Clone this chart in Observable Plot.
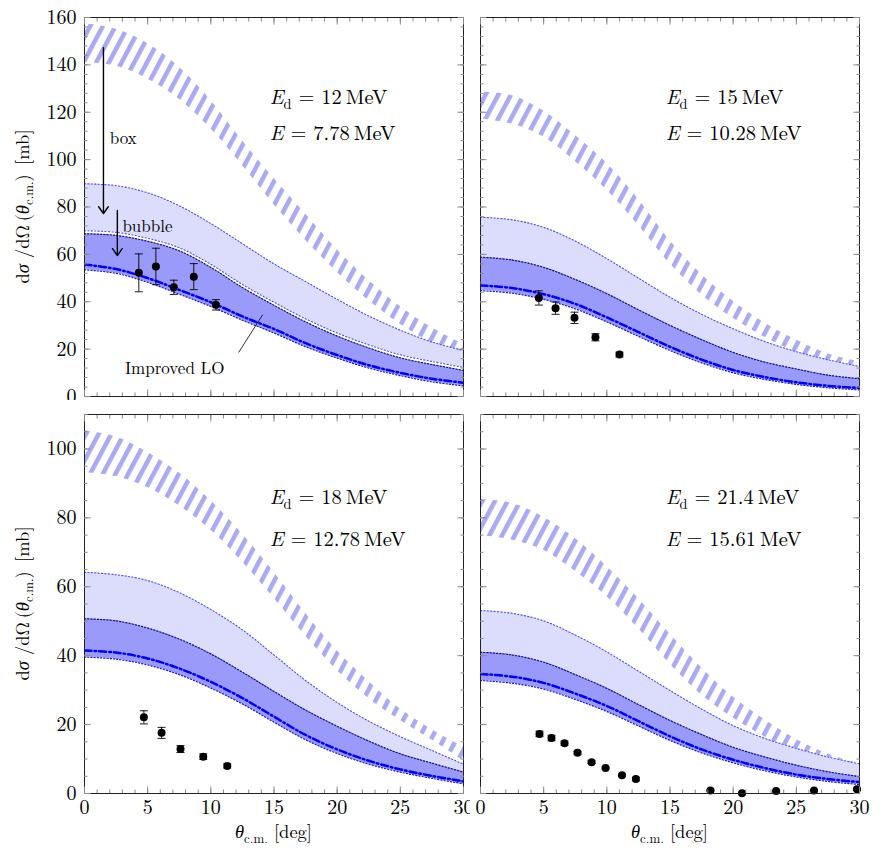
<!DOCTYPE html>
<html><head><meta charset="utf-8">
<script src="https://cdn.jsdelivr.net/npm/d3@7"></script>
<script src="https://cdn.jsdelivr.net/npm/@observablehq/plot@0.6"></script>
<style>
body{margin:0;background:#fff;}
#wrap{position:relative;width:882px;height:861px;}
#wrap > div{position:absolute;}
</style></head><body><div id="wrap"></div>
<script>
// ---------- data ----------
const theta = [0, 2.5, 5, 7.5, 10, 12.5, 15, 17.5, 20, 22.5, 25, 27.5, 30];

// panel (a): Ed = 12 MeV
const a_hatchHi = [157.5,155,149,139,125,108,92,77,62,49,38,29,22];
const a_hatchLo = [141,139.5,134,125.5,113,97.5,81,66,52.5,40.5,30.5,22.5,16.5];
const a_lightHi = [89.8,89,86,80.5,73,64.5,56,48.5,41,34,28,23,19.4];
const a_lightLo = [70,69.3,66.8,62.8,55.8,47.3,39.8,32.8,26.8,21.8,17.6,14.8,12.3];
const a_darkHi  = [68.7,68,65.5,61.5,54.5,46,38.5,31.5,25.5,20.5,16.3,13.5,11];
const a_darkLo  = [53.5,52,48.2,43.2,38,32.2,26.8,21,16.2,12,8.8,6.2,4.5];
const a_lo      = [55.7,53.8,50,45,39.8,33.8,28.5,22.5,17.5,13.2,10,7.5,5.8];
const a_expTheta = [4.3,5.65,7.07,8.65,10.4];
const a_expValue = [52.2,54.9,46.1,50.6,38.7];
const a_expError = [8,7.7,3,5.5,2.2];

// panel (b): Ed = 15 MeV
const b_hatchHi = [128.5,127,120.5,110.2,98.5,83.3,65.8,51.5,40.2,31,23.8,18,14.5];
const b_hatchLo = [117.2,115,109.5,99.2,87.2,72.3,56,43,33,25,18.7,14,11.3];
const b_lightHi = [75.7,74.6,71.4,65.6,58.2,50,41.9,34.7,28.6,23.2,18.9,15.5,12.7];
const b_lightLo = [58.8,57.6,54.5,49.4,43.4,36.6,30,24,18.6,14.5,11.6,9,7.5];
const b_darkHi  = [58.8,57.6,54.5,49.4,43.4,36.6,30,24,18.6,14.5,11.6,9,7.5];
const b_darkLo  = [44.7,43.6,41,37,31.5,25.4,19.4,14.2,10,7.2,5.1,3.7,2.8];
const b_lo      = [46.9,45.8,43.2,39.1,33.4,27.2,21,15.6,11.2,8.2,6,4.5,3.6];
const b_expTheta = [4.62,5.94,7.44,9.1,11.0];
const b_expValue = [41.6,37.3,33.2,25,17.7];
const b_expError = [3,2.6,2.4,1.5,1];

// panel (c): Ed = 18 MeV
const c_hatchHi = [105.3,103.5,99,93,85,75.3,64.2,52.3,41.4,32.5,24.5,18.5,13.5];
const c_hatchLo = [93.2,92,88.8,83.5,76.5,67.2,56.7,45.7,35.7,27.6,21.2,15.5,9.5];
const c_lightHi = [64.2,63.5,61.8,58.3,53.4,47.5,40.2,32.8,26.4,21,16.5,12.5,8.5];
const c_lightLo = [50.7,50.1,48,44.8,40.5,35.2,29.6,24.2,19.5,15.2,11.5,8.8,6.2];
const c_darkHi  = [50.7,50.1,48,44.8,40.5,35.2,29.6,24.2,19.5,15.2,11.5,8.8,6.2];
const c_darkLo  = [39.6,39,37.3,34.5,30.6,26,20.7,15.6,11.6,8.5,6.2,4.4,2.8];
const c_lo      = [41.5,40.9,39.2,36.3,32.4,27.7,22.3,17,12.8,9.5,7,5.1,3.5];
const c_expTheta = [4.7,6.1,7.6,9.4,11.3];
const c_expValue = [22.1,17.6,12.9,10.7,8.0];
const c_expError = [1.9,1.6,1,0.8,0.6];

// panel (d): Ed = 21.4 MeV
const d_hatchHi = [85.3,84.2,80.2,74,65.9,56.6,46.3,36.5,28,21.4,15.7,11.5,8.6];
const d_hatchLo = [74.9,73.6,70.6,64.5,57.2,47.9,37.6,28.6,21.9,16.4,11.6,8.4,5.7];
const d_lightHi = [53.1,52.3,50.1,46,41.1,35.5,29.9,24.5,19.7,16,13.1,10.6,8.6];
const d_lightLo = [41,40.2,38.1,34.5,30.5,25.8,21.2,17.1,13.4,10.6,8.2,6.3,4.9];
const d_darkHi  = [41,40.2,38.1,34.5,30.5,25.8,21.2,17.1,13.4,10.6,8.2,6.3,4.9];
const d_darkLo  = [32.8,32,30.3,27.3,23.8,19.6,15.4,11.8,8.9,6.6,4.8,3.5,2.6];
const d_lo      = [34.7,33.9,32.1,29,25.4,21,16.6,12.8,9.8,7.4,5.5,4.2,3.3];
const d_expTheta = [4.67,5.62,6.65,7.68,8.79,9.9,11.2,12.3,18.2,20.7,23.4,26.4,29.8];
const d_expValue = [17.3,16.1,14.6,11.8,9.1,7.4,5.3,4.2,0.9,0.1,0.7,0.9,1.2];
const d_expError = [0.8,0.8,0.6,0.4,0.4,0.3,0.3,0.5,0.2,0.2,0.2,0.2,0.2];

const energyLabels = [["12", "7.78"], ["15", "10.28"], ["18", "12.78"], ["21.4", "15.61"]];
const xTicks = [0, 5, 10, 15, 20, 25, 30];
const yTicksTop = [0, 20, 40, 60, 80, 100, 120, 140, 160];
const yTicksBottom = [0, 20, 40, 60, 80, 100];

// ---------- helpers ----------
const FONT = "'Latin Modern Roman','CMU Serif','Liberation Serif',serif";

function table(hh, hl, lh, ll, dh, dl, lo) {
  return theta.map((t, i) => ({theta: t, hatchHi: hh[i], hatchLo: hl[i], lightHi: lh[i], lightLo: ll[i], darkHi: dh[i], darkLo: dl[i], lo: lo[i]}));
}
function expTable(t, v, e) { return t.map((x, i) => ({theta: x, value: v[i], err: e[i]})); }

function addParts(t, parts, size) {
  let shifted = 0;
  for (const [s, kind] of parts) {
    const ts = t.append("tspan").text(s);
    if (kind === "i") ts.attr("font-style", "italic");
    if (kind === "sub") {
      const sh = size * 0.25;
      ts.attr("font-size", size * 0.7).attr("dy", sh);
      shifted = sh;
    } else if (shifted) { ts.attr("dy", -shifted); shifted = 0; }
  }
}
function richText(items) {
  return (index, {x, y}) => {
    const g = d3.create("svg:g").attr("font-family", FONT).attr("fill", "black").attr("text-anchor", "start");
    for (const it of items) {
      const t = g.append("text").attr("x", x(it.x)).attr("y", y(it.y)).attr("font-size", it.size).attr("dy", "0.35em").attr("text-anchor", "start");
      addParts(t, it.parts, it.size);
    }
    return g.node();
  };
}
const capSymbol = {draw(ctx, size) { const w = Math.sqrt(size / Math.PI); ctx.moveTo(-w, 0); ctx.lineTo(w, 0); }};

function panel(cfg) {
  const {data, exp, ymax, minorStep, xLabels, yLabels, width, height, margin, id, energy, extra = []} = cfg;
  const TICK = "#8a8a8a";
  const marks = [
    () => {
      const defs = d3.create("svg:defs");
      const p = defs.append("pattern").attr("id", id).attr("patternUnits", "userSpaceOnUse")
        .attr("width", 11.2).attr("height", 11.2).attr("patternTransform", "rotate(28)");
      p.append("rect").attr("width", 4.5).attr("height", 11.2).attr("fill", "#a9a9f5");
      return defs.node();
    },
    Plot.areaY(data, {x: "theta", y1: "hatchLo", y2: "hatchHi", fill: `url(#${id})`, curve: "catmull-rom", clip: true}),
    Plot.areaY(data, {x: "theta", y1: "lightLo", y2: "lightHi", fill: "#dcdcfd", curve: "catmull-rom", clip: true}),
    Plot.line(data, {x: "theta", y: "lightHi", stroke: "#4b4bff", strokeWidth: 1.1, strokeDasharray: "1.2 2.2", curve: "catmull-rom", clip: true}),
    Plot.line(data, {x: "theta", y: "lightLo", stroke: "#4b4bff", strokeWidth: 1.1, strokeDasharray: "1.2 2.2", curve: "catmull-rom", clip: true}),
    Plot.areaY(data, {x: "theta", y1: "darkLo", y2: "darkHi", fill: "#9a9afb", curve: "catmull-rom", clip: true}),
    Plot.line(data, {x: "theta", y: "darkHi", stroke: "#12128f", strokeWidth: 1.2, strokeDasharray: "1.2 2", curve: "catmull-rom", clip: true}),
    Plot.line(data, {x: "theta", y: "darkLo", stroke: "#1818c8", strokeWidth: 1.2, strokeDasharray: "1.2 2", curve: "catmull-rom", clip: true}),
    Plot.line(data, {x: "theta", y: "lo", stroke: "#0000ff", strokeWidth: 2.5, strokeDasharray: "7 3 1.6 3", curve: "catmull-rom", clip: true}),
    Plot.ruleX(exp, {x: "theta", y1: d => d.value - d.err, y2: d => d.value + d.err, stroke: "black", strokeWidth: 0.9}),
    Plot.dot(exp, {x: "theta", y: d => d.value + d.err, symbol: capSymbol, r: 4, stroke: "black", strokeWidth: 0.9}),
    Plot.dot(exp, {x: "theta", y: d => d.value - d.err, symbol: capSymbol, r: 4, stroke: "black", strokeWidth: 0.9}),
    Plot.dot(exp, {x: "theta", y: "value", r: 4, fill: "black", stroke: "none"}),
    Plot.frame({stroke: "#222", strokeWidth: 1}),
    // inward ticks on all four sides
    Plot.axisX({anchor: "bottom", ticks: d3.range(0, 31, 1), tickSize: -3.5, fill: "none", stroke: TICK}),
    Plot.axisX({anchor: "bottom", ticks: xTicks, tickSize: -6.5, fill: "none", stroke: TICK}),
    Plot.axisX({anchor: "top", ticks: d3.range(0, 31, 1), tickSize: -3.5, fill: "none", stroke: TICK}),
    Plot.axisX({anchor: "top", ticks: xTicks, tickSize: -6.5, fill: "none", stroke: TICK}),
    Plot.axisY({anchor: "left", ticks: d3.range(0, ymax + 0.1, minorStep), tickSize: -3.5, fill: "none", stroke: TICK}),
    Plot.axisY({anchor: "left", ticks: d3.range(0, ymax + 0.1, 20), tickSize: -6.5, fill: "none", stroke: TICK}),
    Plot.axisY({anchor: "right", ticks: d3.range(0, ymax + 0.1, minorStep), tickSize: -3.5, fill: "none", stroke: TICK}),
    Plot.axisY({anchor: "right", ticks: d3.range(0, ymax + 0.1, 20), tickSize: -6.5, fill: "none", stroke: TICK}),
    richText([
      {x: 14.7, y: energy.y1, size: 20.5, parts: [["E", "i"], ["d", "sub"], [" = " + energy.ed + "\u2009MeV", ""]]},
      {x: 14.7, y: energy.y2, size: 20.5, parts: [["E", "i"], [" = " + energy.e + "\u2009MeV", ""]]}
    ]),
    ...extra
  ];
  if (xLabels) {
    marks.push(Plot.axisX({anchor: "bottom", ticks: xTicks, tickSize: 0, tickPadding: 6, stroke: "none", fill: "black", label: null, fontSize: 20, fontFamily: FONT}));
    marks.push((index, s, v, dim) => {
      const g = d3.create("svg:g").attr("font-family", FONT);
      const t = g.append("text").attr("text-anchor", "middle").attr("font-size", 18.5)
        .attr("x", (dim.marginLeft + dim.width - dim.marginRight) / 2)
        .attr("y", dim.height - dim.marginBottom + 45);
      addParts(t, [["θ", "i"], ["c.m.", "sub"], [" [deg]", ""]], 18.5);
      return g.node();
    });
  }
  if (yLabels) {
    marks.push(Plot.axisY({anchor: "left", ticks: yLabels, tickSize: 0, tickPadding: 8, stroke: "none", fill: "black", label: null, fontSize: 20, fontFamily: FONT}));
    marks.push((index, s, v, dim) => {
      const g = d3.create("svg:g").attr("font-family", FONT);
      const cy = (dim.marginTop + dim.height - dim.marginBottom) / 2;
      const t = g.append("text").attr("text-anchor", "middle").attr("font-size", 18.5)
        .attr("transform", `translate(28.5,${cy}) rotate(-90)`);
      addParts(t, [["d", ""], ["σ", "i"], [" /dΩ\u2009(", ""], ["θ", "i"], ["c.m.", "sub"], [")\u2002[mb]", ""]], 18.5);
      return g.node();
    });
  }
  return Plot.plot({
    width, height,
    marginLeft: margin[0], marginRight: margin[1], marginTop: margin[2], marginBottom: margin[3],
    x: {domain: [0, 30]},
    y: {domain: [0, ymax]},
    style: {fontFamily: FONT, background: "white", overflow: "visible"},
    marks
  });
}

// ---------- annotations for panel (a) ----------
const annArrows = [{x1: 1.5, y1: 147.3, x2: 1.5, y2: 77.2}, {x1: 2.6, y1: 78.5, x2: 2.6, y2: 59.5}];
const annTexts = [{x: 2.0, y: 108.9, text: "box"}, {x: 3.0, y: 71.8, text: "bubble"}, {x: 3.2, y: 11.8, text: "Improved LO"}];
const annPointer = [{x1: 12.2, y1: 18.6, x2: 14.1, y2: 34.5}];

const extraA = [
  Plot.arrow(annArrows, {x1: "x1", y1: "y1", x2: "x2", y2: "y2", stroke: "black", strokeWidth: 1.4, headLength: 9, headAngle: 70}),
  Plot.link(annPointer, {x1: "x1", y1: "y1", x2: "x2", y2: "y2", stroke: "black", strokeWidth: 0.8}),
  Plot.text(annTexts, {x: "x", y: "y", text: "text", textAnchor: "start", fontSize: 17, fontFamily: FONT, fill: "black"})
];

// ---------- build ----------
const wrap = document.getElementById("wrap");
function place(node, left, top) { const d = document.createElement("div"); d.style.left = left + "px"; d.style.top = top + "px"; d.appendChild(node); wrap.appendChild(d); }

place(panel({
  data: table(a_hatchHi, a_hatchLo, a_lightHi, a_lightLo, a_darkHi, a_darkLo, a_lo),
  exp: expTable(a_expTheta, a_expValue, a_expError),
  ymax: 160, minorStep: 4, xLabels: false, yLabels: yTicksTop,
  width: 470, height: 400, margin: [84, 7, 17, 4], id: "hatchA",
  energy: {ed: energyLabels[0][0], e: energyLabels[0][1], y1: 126.2, y2: 111}, extra: extraA
}), 0, 0);

place(panel({
  data: table(b_hatchHi, b_hatchLo, b_lightHi, b_lightLo, b_darkHi, b_darkLo, b_lo),
  exp: expTable(b_expTheta, b_expValue, b_expError),
  ymax: 160, minorStep: 4, xLabels: false, yLabels: null,
  width: 400, height: 400, margin: [10, 11, 17, 4], id: "hatchB",
  energy: {ed: energyLabels[1][0], e: energyLabels[1][1], y1: 126.2, y2: 111}
}), 470, 0);

place(panel({
  data: table(c_hatchHi, c_hatchLo, c_lightHi, c_lightLo, c_darkHi, c_darkLo, c_lo),
  exp: expTable(c_expTheta, c_expValue, c_expError),
  ymax: 110, minorStep: 5, xLabels: true, yLabels: yTicksBottom,
  width: 470, height: 461, margin: [84, 7, 14, 68], id: "hatchC",
  energy: {ed: energyLabels[2][0], e: energyLabels[2][1], y1: 85.9, y2: 73.7}
}), 0, 400);

place(panel({
  data: table(d_hatchHi, d_hatchLo, d_lightHi, d_lightLo, d_darkHi, d_darkLo, d_lo),
  exp: expTable(d_expTheta, d_expValue, d_expError),
  ymax: 110, minorStep: 5, xLabels: true, yLabels: null,
  width: 400, height: 461, margin: [10, 11, 14, 68], id: "hatchD",
  energy: {ed: energyLabels[3][0], e: energyLabels[3][1], y1: 85.9, y2: 73.7}
}), 470, 400);
</script>
</body></html>
